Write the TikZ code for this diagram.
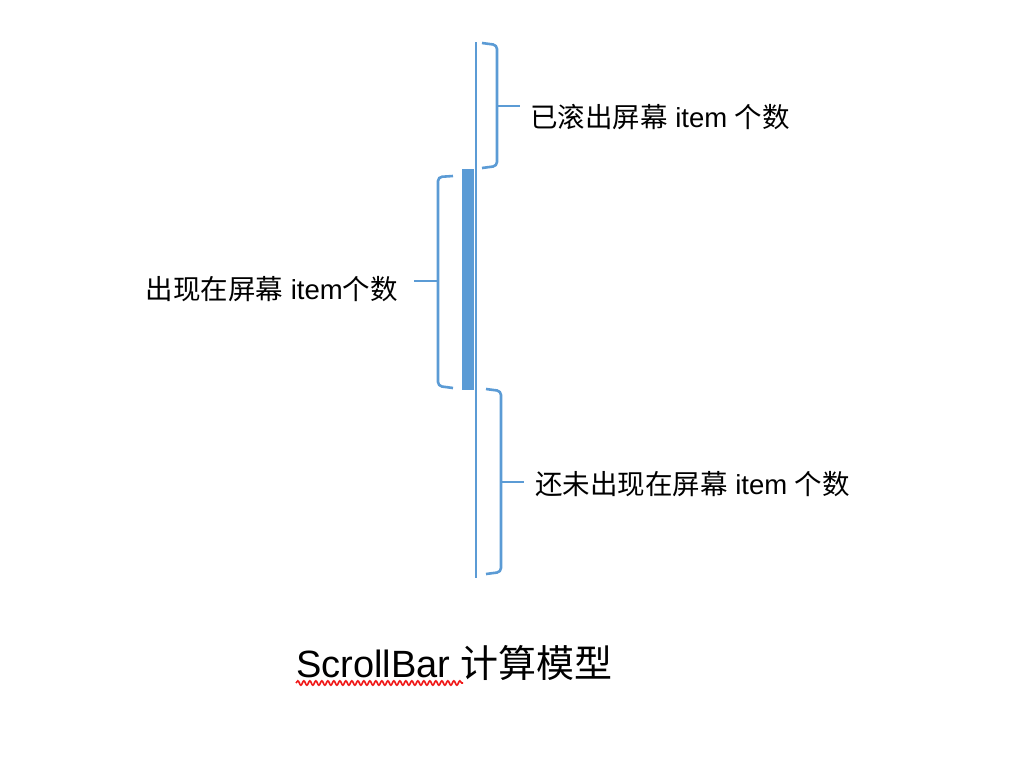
\documentclass[tikz,border=0pt]{standalone}
\usepackage{fontspec}
\setmainfont{Liberation Sans}
\newfontfamily\cjk{Noto Sans CJK SC}
\usetikzlibrary{positioning,decorations.pathmorphing}
\definecolor{barblue}{HTML}{5B9BD5}
\definecolor{wavered}{HTML}{F01818}

\begin{document}
\begin{tikzpicture}[x=1pt,y=-1pt,
  brace/.style={draw=barblue,line width=2.6pt,rounded corners=4pt},
  label/.style={inner sep=0pt,font=\fontsize{27.5}{32}\selectfont}]
\useasboundingbox (0,0) rectangle (1036,756);

% Track and thumb
\draw[barblue,line width=2pt] (476,42) -- (476,578);
\fill[barblue] (462,169) rectangle (474,390);

% Scrolled out of screen
\draw[brace] (482,43) -- (497,45) -- (497,166) -- (482,168);
\coordinate (toptip) at (520,106);
\draw[brace] (497,106) -- (toptip);
\node[label,right=10pt of toptip,yshift=-11pt] (scrolled) {{\cjk 已滚出屏幕} item {\cjk 个数}};

% Visible on screen
\draw[brace] (453,176) -- (438,177) -- (438,386) -- (453,388);
\coordinate (lefttip) at (414,281);
\draw[brace] (438,281) -- (lefttip);
\node[label,left=16pt of lefttip,yshift=-8pt] (visible) {{\cjk 出现在屏幕} item{\cjk 个数}};

% Not yet shown
\draw[brace] (486,389) -- (501,391) -- (501,572) -- (486,574);
\coordinate (bottip) at (524,482);
\draw[brace] (501,482) -- (bottip);
\node[label,right=11pt of bottip,yshift=-2pt] (pending) {{\cjk 还未出现在屏幕} item {\cjk 个数}};

% Title
\node[inner sep=0pt,anchor=west,font=\fontsize{38}{44}\selectfont] (title) at (296,663) {ScrollBar {\cjk 计算模型}};
\draw[wavered,line width=1.6pt,decorate,decoration={snake,amplitude=2.2pt,segment length=6pt}] (296,683) -- (463,683);
\end{tikzpicture}
\end{document}
